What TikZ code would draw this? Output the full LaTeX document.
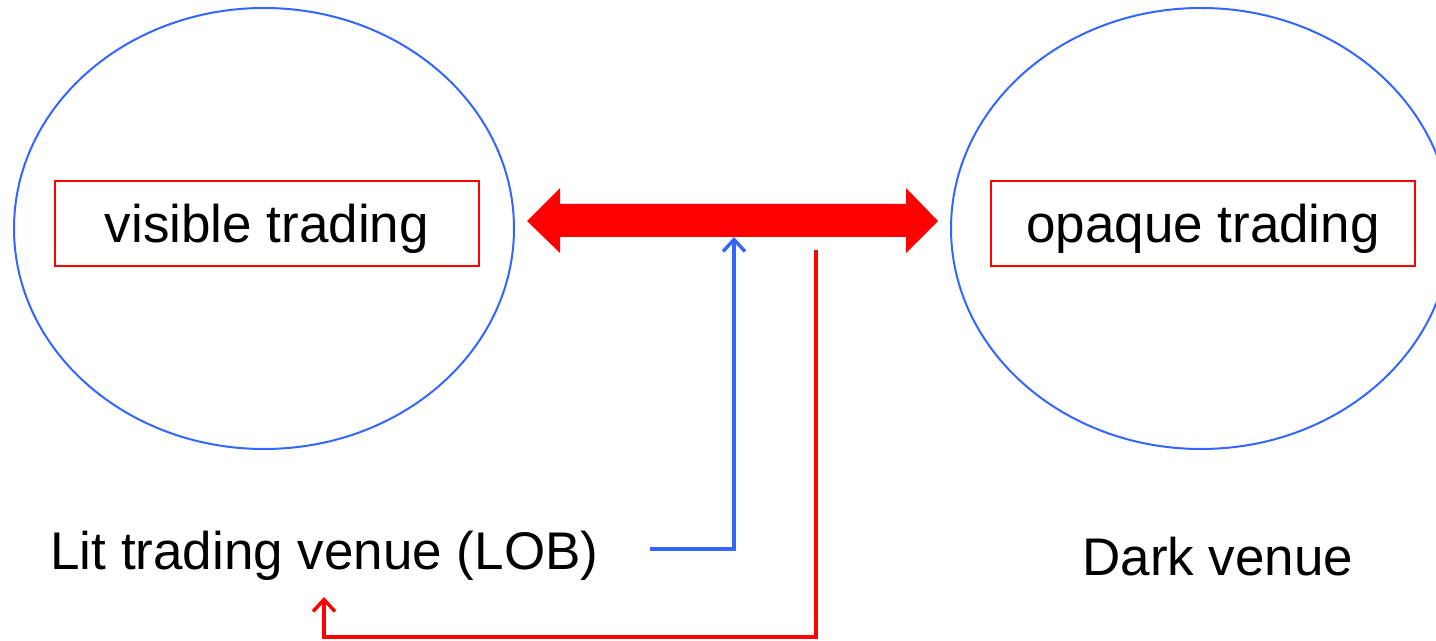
\documentclass[tikz,border=0pt]{standalone}
\usepackage{fontspec}
\setmainfont{Liberation Sans}
\usetikzlibrary{shapes.geometric,arrows.meta}
\definecolor{vblue}{RGB}{51,102,255}
\definecolor{vred}{RGB}{255,0,0}
\begin{document}
\begin{tikzpicture}[x=0.5pt,y=-0.5pt,
  venue/.style={draw=vblue,line width=1pt,ellipse,minimum width=250pt,minimum height=220.5pt,inner sep=0pt},
  tradebox/.style={draw=vred,line width=1pt,minimum width=212pt,minimum height=42.5pt,inner sep=0pt,text height=24pt,text depth=4.5pt,font=\fontsize{26.5}{30}\selectfont},
  label/.style={font=\fontsize{26.5}{30}\selectfont,inner sep=0pt},
  conn/.style={line width=1.7pt,-{Straight Barb[length=6pt,width=11pt,line width=1.7pt]}}]
\useasboundingbox (0,0) rectangle (1436,641);
\node[venue] (lit) at (264,228.5) {};
\node[venue] (dark) at (1201,228.5) {};
\node[tradebox] (vis) at (267,223.5) {visible trading};
\node[tradebox] (opq) at (1203,223.5) {opaque trading};
\node[label,anchor=base west] (littxt) at (50,570) {Lit trading venue (LOB)};
\node[label,anchor=base west] (darktxt) at (1082,576) {Dark venue};
% double arrow
\fill[vred] (527,221) -- (560,188) -- (560,204) -- (906,204) -- (906,188) -- (938,221)
  -- (906,253) -- (906,237) -- (560,237) -- (560,253) -- cycle;
\coordinate (barb) at (734,237);
\coordinate (bstart) at (650,549);
\draw[conn,draw=vblue] (bstart) -| (barb);
\coordinate (rstart) at (816,250);
\coordinate (rcorner) at (816,637);
\coordinate (rend) at (324,597);
\draw[conn,draw=vred] (rstart) -- (rcorner) -| (rend);
\end{tikzpicture}
\end{document}
